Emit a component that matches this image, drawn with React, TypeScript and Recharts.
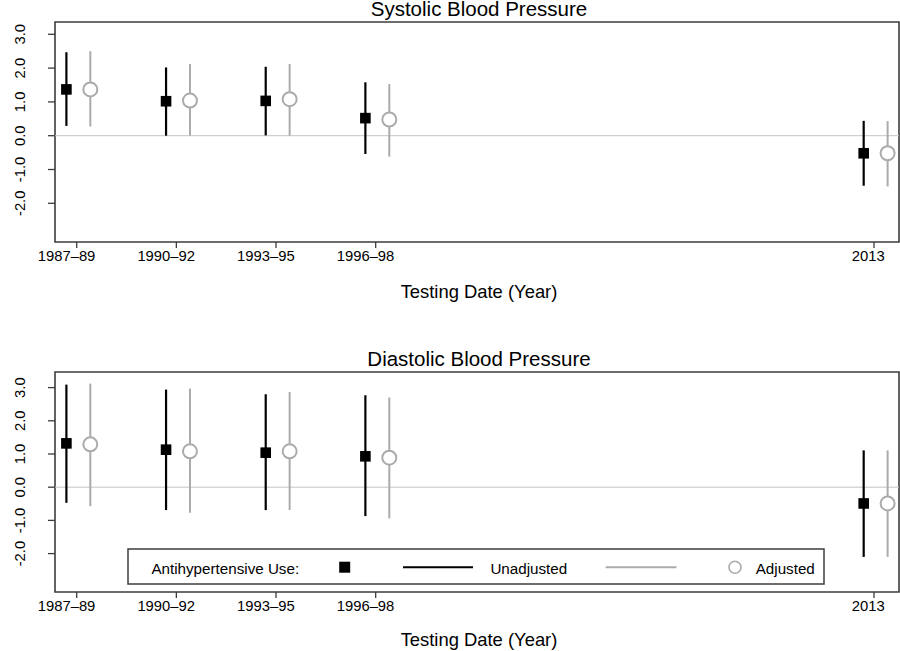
import { ScatterChart, Scatter, XAxis, YAxis, ErrorBar, ReferenceArea, ReferenceLine, Legend } from 'recharts';

const periods = ['1987–89', '1990–92', '1993–95', '1996–98', '2013'];
const periodYears = [1989, 1992, 1995, 1998, 2013];
const yTicks = [-2, -1, 0, 1, 2, 3];

// systolic: estimate with lower / upper CI
const sbpUnadjEst = [1.37, 1.02, 1.03, 0.52, -0.52];
const sbpUnadjLo = [0.29, 0.0, 0.01, -0.54, -1.48];
const sbpUnadjHi = [2.47, 2.02, 2.04, 1.58, 0.44];
const sbpAdjEst = [1.37, 1.04, 1.08, 0.48, -0.52];
const sbpAdjLo = [0.27, 0.0, 0.0, -0.62, -1.5];
const sbpAdjHi = [2.5, 2.12, 2.12, 1.53, 0.43];

// diastolic
const dbpUnadjEst = [1.32, 1.13, 1.04, 0.93, -0.49];
const dbpUnadjLo = [-0.47, -0.69, -0.69, -0.87, -2.1];
const dbpUnadjHi = [3.09, 2.94, 2.8, 2.77, 1.11];
const dbpAdjEst = [1.29, 1.08, 1.08, 0.89, -0.49];
const dbpAdjLo = [-0.57, -0.77, -0.69, -0.94, -2.1];
const dbpAdjHi = [3.12, 2.97, 2.87, 2.7, 1.11];

const FONT = '"Liberation Sans", Arial, Helvetica, sans-serif';
const AXIS_GREY = '#3c3c3c';
const ADJ_GREY = '#ababab';
const UNADJ_SHIFT = -0.31;
const ADJ_SHIFT = 0.41;
const X_DOMAIN: [number, number] = [1988.347, 2013.753];

function buildRows(est: number[], lo: number[], hi: number[], shift: number) {
  return periodYears.map((yr, i) => ({
    x: yr + shift,
    y: est[i],
    err: [est[i] - lo[i], hi[i] - est[i]],
  }));
}

const XTick = ({ x, y, payload }: any) => {
  const label = periods[periodYears.indexOf(payload.value)] ?? '';
  return (
    <text x={x} y={y} dx={-label.length * 1.45} dy="0.71em" textAnchor="middle" fontSize={14.8} fill="#000">
      {label}
    </text>
  );
};

const YTick = ({ x, y, payload }: any) => {
  const bx = x - 23;
  return (
    <text x={bx} y={y} transform={`rotate(-90 ${bx} ${y})`} textAnchor="middle" fontSize={14.8} fill="#000">
      {Number(payload.value).toFixed(1)}
    </text>
  );
};

const Square = (p: any) => <rect x={p.cx - 5.3} y={p.cy - 5.3} width={10.6} height={10.6} fill="#000" />;
const Ring = (p: any) => <circle cx={p.cx} cy={p.cy} r={7} fill="#fff" stroke={ADJ_GREY} strokeWidth={2} />;

const LegendBox = () => (
  <svg width={698} height={37} style={{ display: 'block' }}>
    <rect x={1} y={1} width={696} height={35} fill="#fff" stroke={AXIS_GREY} strokeWidth={1.5} />
    <text x={24.4} y={26} fontSize={15.2} fill="#000">Antihypertensive Use:</text>
    <rect x={212.2} y={13.7} width={11} height={11} fill="#000" />
    <line x1={276} x2={346} y1={19.2} y2={19.2} stroke="#000" strokeWidth={2} />
    <text x={363.4} y={26} fontSize={15.2} fill="#000">Unadjusted</text>
    <line x1={478.7} x2={549.4} y1={19.2} y2={19.2} stroke={ADJ_GREY} strokeWidth={2} />
    <circle cx={608} cy={19.2} r={6} fill="#fff" stroke={ADJ_GREY} strokeWidth={1.6} />
    <text x={628.7} y={26} fontSize={15.2} fill="#000">Adjusted</text>
  </svg>
);

function Panel({ title, top, height, margin, yDomain, unadj, adj, xLabelOffset, legendTop }: any) {
  return (
    <div style={{ position: 'absolute', left: 0, top, width: 900, height }}>
      <ScatterChart width={900} height={height} margin={margin}>
        <XAxis
          type="number"
          dataKey="x"
          domain={X_DOMAIN}
          allowDataOverflow
          ticks={periodYears}
          interval={0}
          tick={XTick}
          tickSize={6}
          tickMargin={2.5}
          axisLine={false}
          tickLine={{ stroke: AXIS_GREY, strokeWidth: 1.3 }}
          height={58}
          label={{ value: 'Testing Date (Year)', position: 'insideBottom', offset: xLabelOffset, dx: 2, fontSize: 18.4, fill: '#000' }}
        />
        <YAxis
          type="number"
          dataKey="y"
          domain={yDomain}
          allowDataOverflow
          ticks={yTicks}
          interval={0}
          tick={YTick}
          tickSize={7}
          tickMargin={0}
          axisLine={false}
          tickLine={{ stroke: AXIS_GREY, strokeWidth: 1.3 }}
          width={55}
        />
        <ReferenceLine y={0} stroke="#c4c4c4" strokeWidth={1} />
        <Scatter data={unadj} shape={Square} isAnimationActive={false}>
          <ErrorBar dataKey="err" direction="y" width={0} stroke="#000" strokeWidth={2.2} isAnimationActive={false} />
        </Scatter>
        <Scatter data={adj} shape={Ring} isAnimationActive={false}>
          <ErrorBar dataKey="err" direction="y" width={0} stroke={ADJ_GREY} strokeWidth={2} isAnimationActive={false} />
        </Scatter>
        <ReferenceArea
          x1={X_DOMAIN[0]}
          x2={X_DOMAIN[1]}
          y1={yDomain[0]}
          y2={yDomain[1]}
          fill="none"
          stroke={AXIS_GREY}
          strokeWidth={1.6}
          label={{ value: title, position: 'top', offset: 6, dx: 2, fontSize: 20.5, fill: '#000' }}
        />
        {legendTop != null && (
          <Legend
            layout="horizontal"
            verticalAlign="middle"
            align="center"
            content={LegendBox}
            wrapperStyle={{ position: 'absolute', left: 127.3, top: legendTop, width: 698, height: 37 }}
          />
        )}
      </ScatterChart>
    </div>
  );
}

export default function App() {
  return (
    <div style={{ position: 'absolute', left: 0, top: 0, width: 900, height: 651, background: '#fff', fontFamily: FONT }}>
      <Panel
        title="Systolic Blood Pressure"
        top={0}
        height={325}
        margin={{ top: 22, right: 1, bottom: 25, left: 0 }}
        yDomain={[-3.145, 3.364]}
        unadj={buildRows(sbpUnadjEst, sbpUnadjLo, sbpUnadjHi, UNADJ_SHIFT)}
        adj={buildRows(sbpAdjEst, sbpAdjLo, sbpAdjHi, ADJ_SHIFT)}
        xLabelOffset={2.5}
      />
      <Panel
        title="Diastolic Blood Pressure"
        top={325}
        height={326}
        margin={{ top: 47, right: 1, bottom: 1, left: 0 }}
        yDomain={[-3.157, 3.47]}
        unadj={buildRows(dbpUnadjEst, dbpUnadjLo, dbpUnadjHi, UNADJ_SHIFT)}
        adj={buildRows(dbpAdjEst, dbpAdjLo, dbpAdjHi, ADJ_SHIFT)}
        xLabelOffset={4}
        legendTop={223.3}
      />
    </div>
  );
}
